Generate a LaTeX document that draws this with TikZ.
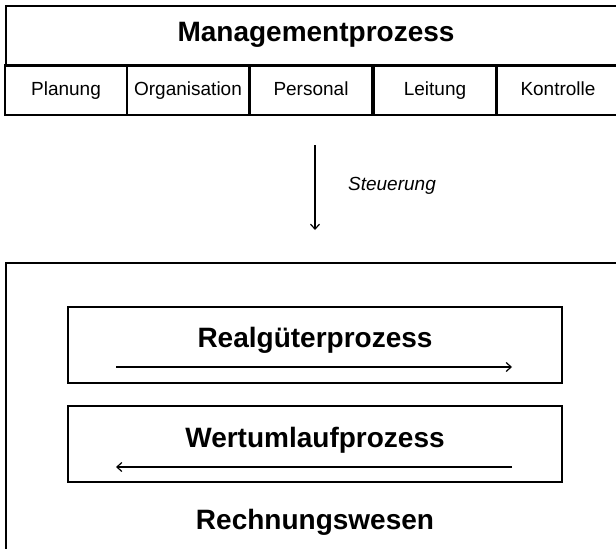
\documentclass[tikz,border=0pt]{standalone}
\usepackage{fontspec}
\setmainfont{Liberation Sans}
\usetikzlibrary{arrows.meta}
\begin{document}
\begin{tikzpicture}[x=1pt,y=-1pt,
  cell/.style={draw, line width=1.8pt, minimum width=122pt, minimum height=50pt, inner sep=0pt, text height=14pt, text depth=4pt, font=\fontsize{19}{22}\selectfont},
  title/.style={font=\bfseries\fontsize{28}{32}\selectfont},
  inbox/.style={draw, line width=2.4pt, minimum width=494pt, minimum height=76pt, inner sep=0pt},
  flow/.style={line width=1.2pt, -{Straight Barb[length=5pt,width=9pt,line width=1.2pt]}}]
\useasboundingbox (0,0) rectangle (616,549);
\begin{scope}
\clip (0,0) rectangle (616,549);
% top box
\node[draw, line width=1.8pt, minimum width=616pt, minimum height=60pt, anchor=north west, inner sep=0pt] (head) at (5,5) {};
\node[title] (mp) at (316,35) {Managementprozess};
\node[cell] (c1) at (66,90) {Planung};
\node[cell] (c2) at (188,90) {Organisation};
\node[cell] (c3) at (311,90) {Personal};
\node[cell] (c4) at (435,90) {Leitung};
\node[cell] (c5) at (558,90) {Kontrolle};
% Steuerung
\coordinate (s1) at (315,145);
\coordinate (s2) at (315,230);
\draw[flow] (s1) -- (s2);
\node[font=\itshape\fontsize{19}{22}\selectfont] (st) at (392,186) {Steuerung};
% bottom box
\node[draw, line width=1.5pt, anchor=north west, minimum width=640pt, minimum height=320pt, inner sep=0pt] (rw) at (5,262) {};
\node[inbox] (b1) at (315,345) {};
\node[title] (rg) at (315,340) {Realgüterprozess};
\coordinate (a1) at (116,367);
\coordinate (a2) at (512,367);
\draw[flow] (a1) -- (a2);
\node[inbox] (b2) at (315,444) {};
\node[title] (wu) at (315,440) {Wertumlaufprozess};
\coordinate (a3) at (512,467);
\coordinate (a4) at (116,467);
\draw[flow] (a3) -- (a4);
\node[title] (rn) at (315,522) {Rechnungswesen};
\end{scope}
\end{tikzpicture}
\end{document}
